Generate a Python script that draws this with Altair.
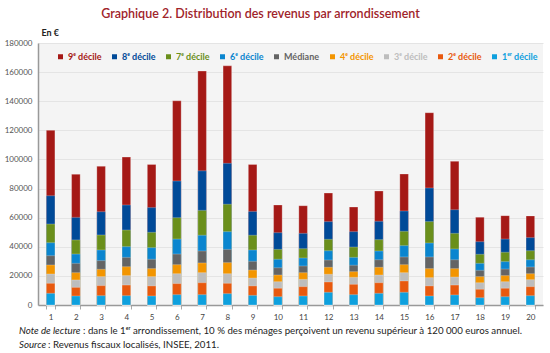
import altair as alt
import pandas as pd

arrondissements = list(range(1, 21))
deciles = ["9ᵉ décile", "8ᵉ décile", "7ᵉ décile", "6ᵉ décile", "Médiane",
           "4ᵉ décile", "3ᵉ décile", "2ᵉ décile", "1ᵉʳ décile"]
colors = ["#a51916", "#004a98", "#6a8f1b", "#0a85cf", "#646464",
          "#f39500", "#bdbdbd", "#e8590e", "#0ea0de"]

d1 = [8000, 6200, 6400, 6400, 6200, 7100, 7100, 7800, 6600, 5700, 6200, 8700, 7100, 8000, 8700, 6200, 6900, 5000, 5700, 6400]
d2 = [14900, 12100, 13300, 13700, 13100, 14700, 15300, 14900, 13100, 11500, 12600, 15800, 14200, 15300, 16500, 13100, 13700, 10800, 11500, 12600]
d3 = [21300, 17200, 19500, 20200, 19500, 21500, 22200, 21500, 18500, 16000, 17600, 21100, 19000, 20600, 22200, 18800, 19200, 15300, 16000, 17400]
d4 = [27500, 22200, 24500, 26300, 25000, 27700, 28900, 29100, 24000, 20600, 22200, 25900, 22900, 25900, 27700, 25000, 25000, 19500, 20200, 21500]
d5 = [33900, 28600, 30500, 32700, 31400, 35000, 37100, 38200, 30000, 25600, 26800, 30900, 27300, 31100, 33000, 33000, 31100, 23800, 24700, 26100]
d6 = [42800, 35000, 37800, 40100, 39400, 45300, 47900, 50400, 37800, 31400, 32300, 37300, 32700, 37100, 40800, 42600, 38500, 28600, 29800, 31100]
d7 = [55600, 44700, 48100, 51500, 49900, 60000, 65000, 69200, 47900, 38200, 38700, 45100, 39800, 44900, 50600, 57300, 49200, 34800, 36200, 37300]
d8 = [75100, 60200, 64100, 68700, 66900, 85200, 92200, 97300, 64300, 49700, 49200, 57300, 50400, 57500, 64600, 80400, 65500, 43500, 45300, 46300]
d9 = [120000, 89800, 95300, 101600, 96600, 140300, 160700, 164300, 96600, 68700, 68200, 76900, 67300, 78300, 90000, 132100, 98700, 60300, 61400, 61200]

series = [d9, d8, d7, d6, d5, d4, d3, d2, d1]

rows = []
for rank, (name, vals) in enumerate(zip(deciles, series)):
    for a, v in zip(arrondissements, vals):
        rows.append({"arr": a, "decile": name, "value": v, "rank": rank})
df = pd.DataFrame(rows)

FONT = "Lato"

bars = alt.Chart(df).mark_bar(stroke="white", strokeWidth=0.5, strokeOpacity=0.5).encode(
    x=alt.X("arr:O", sort=arrondissements,
            scale=alt.Scale(paddingInner=0.66, paddingOuter=0.33),
            axis=alt.Axis(title=None, labelAngle=0, tickBand="extent", ticks=True,
                          tickColor="#aaaaaa", tickSize=4, domainColor="#999999",
                          domainWidth=1.5, labelFontSize=8, labelColor="#444444",
                          grid=False, labelPadding=4, labelFont=FONT)),
    y=alt.Y("value:Q", stack=None, scale=alt.Scale(domain=[0, 180000], nice=False),
            axis=alt.Axis(values=list(range(0, 180001, 20000)), format="d",
                          labelFontSize=8, labelColor="#555555", ticks=False,
                          labelPadding=6, domainColor="#999999", domainWidth=1.5,
                          gridColor="#e4e4e4", title="En €", titleAngle=0,
                          titleAlign="left", titleBaseline="alphabetic",
                          titleX=3, titleY=-8, titleFont=FONT, titleFontSize=9,
                          titleFontWeight="bold", titleColor="#222222",
                          labelFont=FONT)),
    color=alt.Color("decile:N", scale=alt.Scale(domain=deciles, range=colors),
                    legend=alt.Legend(orient="none", legendX=18, legendY=9,
                                      direction="horizontal", columns=9, title=None,
                                      symbolType="square", symbolSize=25,
                                      symbolStrokeWidth=0, labelFont=FONT,
                                      labelFontSize=9, labelFontWeight="bold",
                                      labelColor={"expr": "scale('color', datum.value)"},
                                      columnPadding=8, labelOffset=3)),
    order=alt.Order("rank:Q"),
)

note_prefix = ["Note de lecture", "Source"]
note_rest = [": dans le 1ᵉʳ arrondissement, 10 % des ménages perçoivent un revenu supérieur à 120 000 euros annuel.",
             ": Revenus fiscaux localisés, INSEE, 2011."]

one = pd.DataFrame({"k": [0]})

def txt(s, x, y, italic):
    return alt.Chart(one).mark_text(
        text=s, align="left", baseline="alphabetic", font=FONT, fontSize=9.7,
        fontStyle="italic" if italic else "normal", color="#222222"
    ).encode(x=alt.value(x), y=alt.value(y))

notes = [
    txt(note_prefix[0], -19, 291, True),
    txt(note_rest[0], 45, 291, False),
    txt(note_prefix[1], -19, 305, True),
    txt(note_rest[1], 10, 305, False),
]

chart = alt.layer(bars, *notes).properties(
    width=505, height=262,
    autosize=alt.AutoSizeParams(type="none"),
    padding={"left": 38, "top": 43, "right": 7, "bottom": 48},
    title=alt.Title("Graphique 2. Distribution des revenus par arrondissement",
                    font=FONT, fontSize=12.5, fontWeight=600, color="#a0232a",
                    anchor="middle", dx=-30, offset=8),
).configure_view(fill="#f4f4f4", stroke=None)

chart.save("out.html", embed_options={"renderer": "svg", "actions": False})
